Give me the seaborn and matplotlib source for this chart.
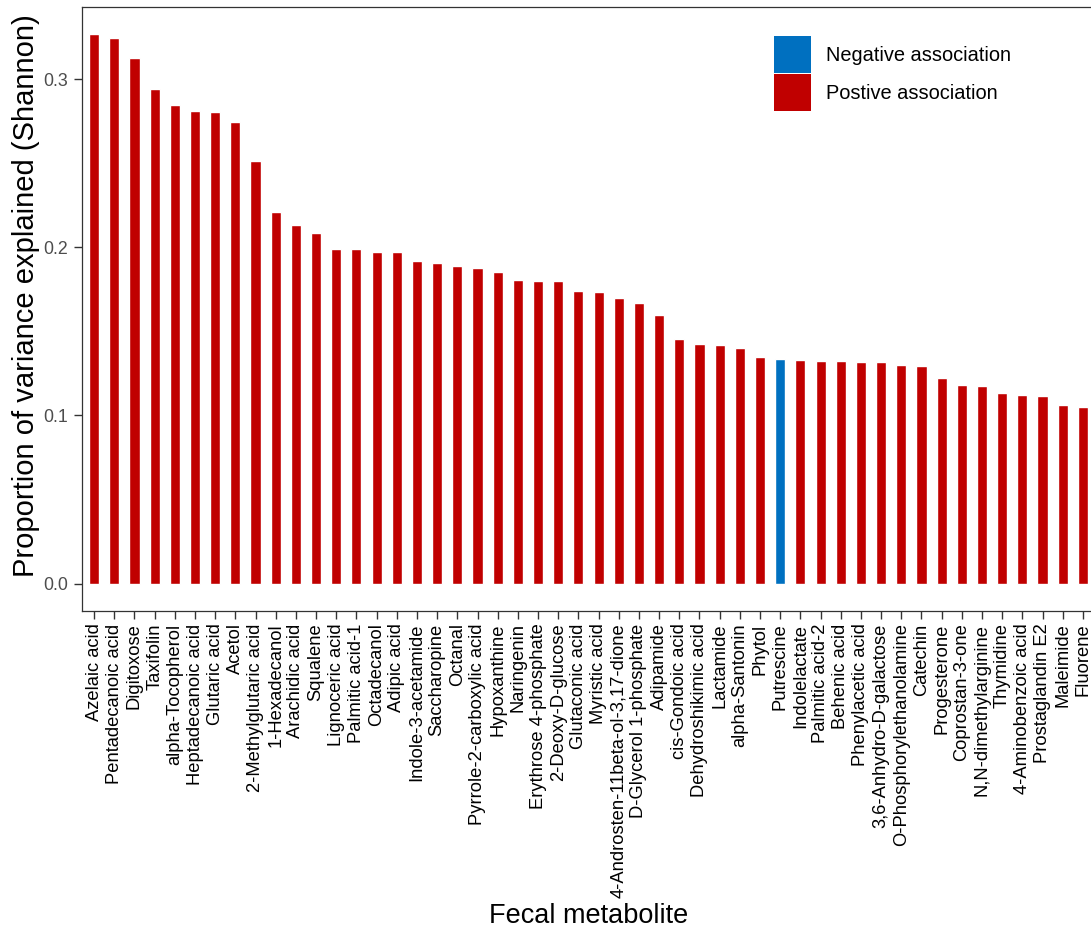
import matplotlib
matplotlib.use("Agg")
import matplotlib.pyplot as plt
from matplotlib.patches import Patch
import pandas as pd
import seaborn as sns

# Fecal metabolites ranked by proportion of Shannon-diversity variance explained
metabolites = [
    "Azelaic acid", "Pentadecanoic acid", "Digitoxose", "Taxifolin", "alpha-Tocopherol",
    "Heptadecanoic acid", "Glutaric acid", "Acetol", "2-Methylglutaric acid", "1-Hexadecanol",
    "Arachidic acid", "Squalene", "Lignoceric acid", "Palmitic acid-1", "Octadecanol",
    "Adipic acid", "Indole-3-acetamide", "Saccharopine", "Octanal", "Pyrrole-2-carboxylic acid",
    "Hypoxanthine", "Naringenin", "Erythrose 4-phosphate", "2-Deoxy-D-glucose", "Glutaconic acid",
    "Myristic acid", "4-Androsten-11beta-ol-3,17-dione", "D-Glycerol 1-phosphate", "Adipamide",
    "cis-Gondoic acid", "Dehydroshikimic acid", "Lactamide", "alpha-Santonin", "Phytol",
    "Putrescine", "Indolelactate", "Palmitic acid-2", "Behenic acid", "Phenylacetic acid",
    "3,6-Anhydro-D-galactose", "O-Phosphorylethanolamine", "Catechin", "Progesterone",
    "Coprostan-3-one", "N,N-dimethylarginine", "Thymidine", "4-Aminobenzoic acid",
    "Prostaglandin E2", "Maleimide", "Fluorene",
]

variance_explained = [
    0.3267, 0.3245, 0.3126, 0.2943, 0.2846, 0.2814, 0.2804, 0.2749, 0.2512, 0.2211,
    0.2133, 0.2087, 0.1992, 0.1992, 0.1972, 0.1972, 0.1921, 0.1905, 0.1889, 0.1878,
    0.1852, 0.1806, 0.1800, 0.1798, 0.1743, 0.1733, 0.1698, 0.1672, 0.1599, 0.1454,
    0.1423, 0.1417, 0.1401, 0.1350, 0.1338, 0.1330, 0.1324, 0.1324, 0.1320, 0.1316,
    0.1302, 0.1292, 0.1225, 0.1180, 0.1174, 0.1134, 0.1119, 0.1113, 0.1065, 0.1049,
]

negative_set = ["Putrescine"]
direction_labels = ["Negative association", "Postive association"]
direction_colors = ["#0070C0", "#C00000"]

direction = [direction_labels[0] if m in negative_set else direction_labels[1]
             for m in metabolites]

df = pd.DataFrame({"metabolite": metabolites,
                   "value": variance_explained,
                   "direction": direction})

sns.set_theme(style="white")
plt.rcParams["font.family"] = ["Liberation Sans", "DejaVu Sans"]
plt.rcParams["text.color"] = "black"
plt.rcParams["axes.labelcolor"] = "black"

W, H = 1091, 934
fig = plt.figure(figsize=(W / 100, H / 100), dpi=100)
ax_left, ax_top, ax_bottom, ax_w = 82, 7, 611, 1013
ax = fig.add_axes([ax_left / W, 1 - ax_bottom / H, ax_w / W, (ax_bottom - ax_top) / H])

palette = dict(zip(direction_labels, direction_colors))
sns.barplot(data=df, x="metabolite", y="value", hue="direction",
            order=metabolites, hue_order=direction_labels, palette=palette,
            dodge=False, width=0.5, legend=False, saturation=1, ax=ax)

vmax = max(variance_explained)
pad = 0.05 * vmax
ax.set_ylim(-pad, vmax + pad)
ax.set_xlim(-0.6, len(metabolites) - 0.4)

ax.set_yticks([0.0, 0.1, 0.2, 0.3])
ax.set_yticklabels(["0.0", "0.1", "0.2", "0.3"])
ax.tick_params(axis="y", left=True, length=6, width=1.0, color="#333333",
               labelsize=12.8, labelcolor="#4d4d4d", pad=4)
ax.tick_params(axis="x", bottom=True, length=6, width=1.0, color="#333333",
               labelsize=13.2, labelcolor="black", pad=3)
ax.set_xticks(range(len(metabolites)))
ax.set_xticklabels(metabolites, rotation=90, ha="center", va="top")

for s in ax.spines.values():
    s.set_color("#333333")
    s.set_linewidth(0.9)

ax_h = ax_bottom - ax_top
ax.set_xlabel("Fecal metabolite", fontsize=19.5, color="black")
ax.xaxis.set_label_coords(0.5, -(903 - ax_bottom) / ax_h)
ax.set_ylabel("Proportion of variance explained (Shannon)", fontsize=21, color="black")
ax.yaxis.set_label_coords((40 - ax_left) / ax_w, (ax_bottom - 296) / ax_h)

handles = [Patch(facecolor=c, edgecolor="none") for c in direction_colors]
fs = 14.4
px_per_fs = fs * 100 / 72
key_fu = 37 / px_per_fs
leg = ax.legend(handles, direction_labels, loc="upper left",
                bbox_to_anchor=(774 / W, 1 - 36 / H), bbox_transform=fig.transFigure,
                frameon=False, fontsize=fs, borderpad=0, borderaxespad=0,
                handlelength=key_fu, handleheight=(key_fu - 0.245) / 0.65,
                labelspacing=0.05, handletextpad=15 / px_per_fs)
for t in leg.get_texts():
    t.set_color("black")

fig.savefig("out.png", dpi=100)
